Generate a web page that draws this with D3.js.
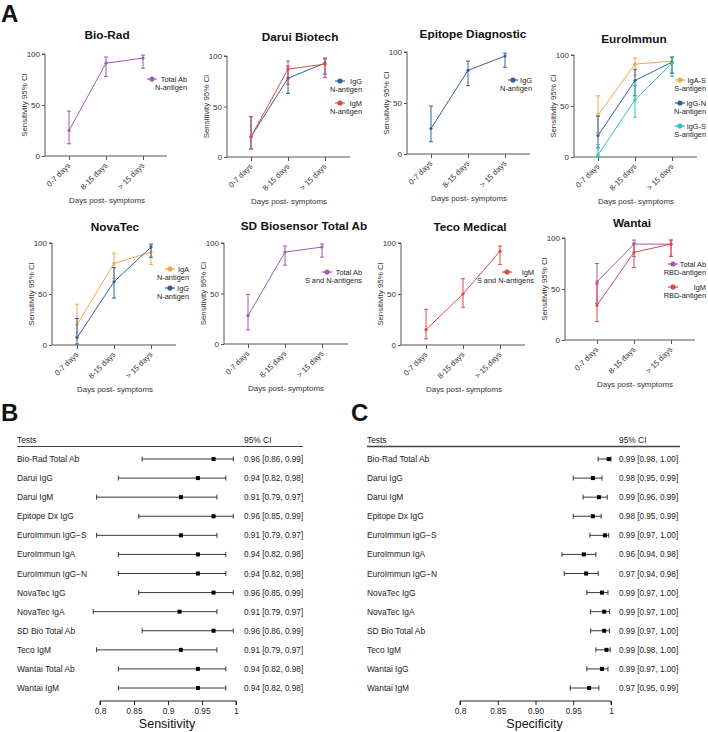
<!DOCTYPE html>
<html><head><meta charset="utf-8">
<script src="https://cdn.jsdelivr.net/npm/d3@7"></script>
<style>
body{margin:0;background:#fff;}
svg{display:block;font-family:"Liberation Sans",Arial,Helvetica,sans-serif;}
</style></head>
<body>
<svg id="c" width="708" height="732"></svg>
<script>
// ---------- DATA ----------
const categories = ["0-7 days", "8-15 days", "> 15 days"];
const yTicks = [0, 50, 100];
// [estimate, lower, upper] per category
const bioRadTotalAb = [[25, 12, 44], [91, 78, 97], [96, 86, 99]];
const daruiIgG = [[20, 8, 40], [78, 63, 90], [93, 82, 98]];
const daruiIgM = [[20, 8, 40], [87, 72, 95], [92, 79, 97]];
const epitopeIgG = [[25, 12, 47], [82, 67, 91], [96, 85, 99]];
const euroIgAS = [[41, 24, 60], [91, 80, 97], [94, 83, 98]];
const euroIgGN = [[21, 9, 40], [75, 60, 86], [93, 82, 98]];
const euroIgGS = [[2, 0, 12], [56, 39, 70], [92, 79, 97]];
const novaIgA = [[20, 8, 40], [80, 65, 90], [91, 79, 97]];
const novaIgG = [[7, 1, 26], [62, 46, 76], [96, 86, 99]];
const sdTotalAb = [[28, 14, 49], [91, 78, 97], [96, 86, 99]];
const tecoIgM = [[15, 6, 35], [50, 37, 65], [92, 79, 97]];
const wantaiTotalAb = [[57, 36, 75], [94, 82, 98], [94, 82, 98]];
const wantaiIgM = [[34, 18, 55], [86, 71, 95], [94, 82, 98]];

const sensTests = ["Bio-Rad Total Ab", "Darui IgG", "Darui IgM", "Epitope Dx IgG", "EuroImmun IgG\u2212S", "EuroImmun IgA", "EuroImmun IgG\u2212N", "NovaTec IgG", "NovaTec IgA", "SD Bio Total Ab", "Teco IgM", "Wantai Total Ab", "Wantai IgM"];
const sensEst = [0.967, 0.944, 0.919, 0.967, 0.919, 0.944, 0.944, 0.967, 0.917, 0.967, 0.919, 0.944, 0.944];
const sensLo = [0.862, 0.827, 0.795, 0.857, 0.795, 0.827, 0.827, 0.857, 0.790, 0.862, 0.795, 0.827, 0.827];
const sensHi = [0.996, 0.985, 0.972, 0.996, 0.972, 0.985, 0.985, 0.996, 0.972, 0.996, 0.972, 0.985, 0.985];
const sensCI = ["0.96 [0.86, 0.99]", "0.94 [0.82, 0.98]", "0.91 [0.79, 0.97]", "0.96 [0.85, 0.99]", "0.91 [0.79, 0.97]", "0.94 [0.82, 0.98]", "0.94 [0.82, 0.98]", "0.96 [0.85, 0.99]", "0.91 [0.79, 0.97]", "0.96 [0.86, 0.99]", "0.91 [0.79, 0.97]", "0.94 [0.82, 0.98]", "0.94 [0.82, 0.98]"];
const sensTicks = [0.8, 0.85, 0.9, 0.95, 1];
const sensTickLabels = ["0.8", "0.85", "0.9", "0.95", "1"];

const specTests = ["Bio-Rad Total Ab", "Darui IgG", "Darui IgM", "Epitope Dx IgG", "EuroImmun IgG\u2212S", "EuroImmun IgA", "EuroImmun IgG\u2212N", "NovaTec IgG", "NovaTec IgA", "SD Bio Total Ab", "Teco IgM", "Wantai IgG", "Wantai IgM"];
const specEst = [0.997, 0.976, 0.984, 0.976, 0.992, 0.964, 0.967, 0.988, 0.991, 0.991, 0.994, 0.988, 0.971];
const specLo = [0.983, 0.950, 0.963, 0.950, 0.972, 0.935, 0.938, 0.968, 0.973, 0.973, 0.980, 0.968, 0.946];
const specHi = [1.000, 0.988, 0.995, 0.987, 0.997, 0.980, 0.983, 0.996, 0.998, 0.998, 0.999, 0.996, 0.984];
const specCI = ["0.99 [0.98, 1.00]", "0.98 [0.95, 0.99]", "0.99 [0.96, 0.99]", "0.98 [0.95, 0.99]", "0.99 [0.97, 1.00]", "0.96 [0.94, 0.98]", "0.97 [0.94, 0.98]", "0.99 [0.97, 1.00]", "0.99 [0.97, 1.00]", "0.99 [0.97, 1.00]", "0.99 [0.98, 1.00]", "0.99 [0.97, 1.00]", "0.97 [0.95, 0.99]"];
const specTicks = [0.8, 0.85, 0.9, 0.95, 1];
const specTickLabels = ["0.8", "0.85", "0.90", "0.95", "1"];

// ---------- STYLE ----------
const PURPLE = "#9d5dab", BLUE = "#34609f", RED = "#e04848", ORANGE = "#f2a64a", TEAL = "#2fc1c0";
const svg = d3.select("#c");
const AX = "#555";

const panels = [
  {title: "Bio-Rad", x0: 45, t0: 69, step: 37, xEnd: 167, y100: 54, y0: 156, tx: 107, ty: 39,
   series: [{lab: ["Total Ab", "N-antigen"], d: bioRadTotalAb, c: PURPLE}], leg: {mx: 152, end: 187, ys: [79]}},
  {title: "Darui Biotech", x0: 227, t0: 251, step: 37, xEnd: 350, y100: 56, y0: 157, tx: 300, ty: 41,
   series: [{lab: ["IgG", "N-antigen"], d: daruiIgG, c: BLUE}, {lab: ["IgM", "N-antigen"], d: daruiIgM, c: RED}], leg: {mx: 340, end: 362, ys: [81, 103]}},
  {title: "Epitope Diagnostic", x0: 407, t0: 431, step: 37, xEnd: 530, y100: 52, y0: 154, tx: 473, ty: 38,
   series: [{lab: ["IgG", "N-antigen"], d: epitopeIgG, c: BLUE}], leg: {mx: 513, end: 532, ys: [80]}},
  {title: "EuroImmun", x0: 574, t0: 598, step: 37, xEnd: 697, y100: 55, y0: 157, tx: 634, ty: 43,
   series: [{lab: ["IgA-S", "S-antigen"], d: euroIgAS, c: ORANGE}, {lab: ["IgG-N", "N-antigen"], d: euroIgGN, c: BLUE}, {lab: ["IgG-S", "S-antigen"], d: euroIgGS, c: TEAL}], leg: {mx: 680, end: 706, ys: [80, 103, 126]}},
  {title: "NovaTec", x0: 52, t0: 77, step: 37, xEnd: 176, y100: 243, y0: 345, tx: 115, ty: 231,
   series: [{lab: ["IgA", "N-antigen"], d: novaIgA, c: ORANGE}, {lab: ["IgG", "N-antigen"], d: novaIgG, c: BLUE}], leg: {mx: 170, end: 189, ys: [269, 288]}},
  {title: "SD Biosensor Total Ab", x0: 224, t0: 248, step: 37, xEnd: 348, y100: 243, y0: 344, tx: 304, ty: 230,
   series: [{lab: ["Total Ab", "S and N-antigens"], d: sdTotalAb, c: PURPLE}], leg: {mx: 327, end: 362, ys: [272]}},
  {title: "Teco Medical", x0: 401, t0: 426, step: 37, xEnd: 525, y100: 243, y0: 345, tx: 470, ty: 231,
   series: [{lab: ["IgM", "S and N-antigens"], d: tecoIgM, c: RED}], leg: {mx: 507, end: 534, ys: [272]}},
  {title: "Wantai", x0: 565, t0: 597, step: 37, xEnd: 695, y100: 238, y0: 340, tx: 632, ty: 227,
   series: [{lab: ["Total Ab", "RBD-antigen"], d: wantaiTotalAb, c: PURPLE}, {lab: ["IgM", "RBD-antigen"], d: wantaiIgM, c: RED}], leg: {mx: 673, end: 706, ys: [264, 287]}}
];

// Panel letters
[["A", 1, 22], ["B", 1, 421], ["C", 351, 421]].forEach(([t, x, y]) => {
  svg.append("text").attr("x", x).attr("y", y).attr("font-size", 24).attr("font-weight", "bold").attr("fill", "#111").text(t);
});

panels.forEach(p => {
  const g = svg.append("g");
  const x = d3.scalePoint().domain(categories).range([p.t0, p.t0 + 2 * p.step]);
  const y = d3.scaleLinear().domain([0, 100]).range([p.y0, p.y100]);

  g.append("text").attr("x", p.tx).attr("y", p.ty).attr("text-anchor", "middle")
    .attr("font-size", 11.8).attr("font-weight", "bold").attr("fill", "#111").text(p.title);

  // y axis
  const ya = g.append("g").attr("transform", `translate(${p.x0},0)`)
    .call(d3.axisLeft(y).tickValues(yTicks).tickSize(3).tickPadding(2));
  ya.selectAll("path,line").attr("stroke", AX);
  ya.selectAll("text").attr("font-size", 8).attr("fill", "#333").attr("font-family", "Liberation Sans, Arial, sans-serif");
  ya.select(".domain").attr("d", `M-3,${p.y100}H0V${p.y0}`);

  // x axis
  const xa = g.append("g").attr("transform", `translate(0,${p.y0})`)
    .call(d3.axisBottom(x).tickSize(4).tickFormat(""));
  xa.select(".domain").remove();
  xa.selectAll("line").attr("stroke", AX);
  g.append("line").attr("x1", p.x0).attr("x2", p.xEnd).attr("y1", p.y0).attr("y2", p.y0).attr("stroke", AX);
  categories.forEach(cat => {
    g.append("text").attr("transform", `translate(${x(cat) + 2},${p.y0 + 10}) rotate(-45)`)
      .attr("text-anchor", "end").attr("font-size", 7.8).attr("fill", "#333").text(cat);
  });
  g.append("text").attr("x", p.t0 + p.step + 1).attr("y", p.y0 + 47).attr("text-anchor", "middle")
    .attr("font-size", 7.9).attr("fill", "#333").text("Days post- symptoms");

  g.append("text").attr("transform", `translate(${p.x0 - 18},${(p.y0 + p.y100) / 2}) rotate(-90)`)
    .attr("text-anchor", "middle").attr("font-size", 7.9).attr("fill", "#333").text("Sensitivity 95% CI");

  // series
  p.series.forEach((s, si) => {
    const pts = s.d.map((v, i) => ({x: x(categories[i]), v: v[0], lo: v[1], hi: v[2]}));
    g.append("path").attr("d", d3.line().x(d => d.x).y(d => y(d.v))(pts))
      .attr("fill", "none").attr("stroke", s.c).attr("stroke-width", 1);
    pts.forEach(d => {
      g.append("line").attr("x1", d.x).attr("x2", d.x).attr("y1", y(d.lo)).attr("y2", y(d.hi)).attr("stroke", s.c).attr("stroke-width", 1);
      [d.lo, d.hi].forEach(b => g.append("line").attr("x1", d.x - 2).attr("x2", d.x + 2).attr("y1", y(b)).attr("y2", y(b)).attr("stroke", s.c).attr("stroke-width", 1));
      g.append("circle").attr("cx", d.x).attr("cy", y(d.v)).attr("r", 1.6).attr("fill", s.c);
    });
    // legend
    const ly = p.leg.ys[si];
    g.append("line").attr("x1", p.leg.mx - 5).attr("x2", p.leg.mx + 5).attr("y1", ly).attr("y2", ly).attr("stroke", s.c).attr("stroke-width", 1.2);
    g.append("circle").attr("cx", p.leg.mx).attr("cy", ly).attr("r", 2.6).attr("fill", s.c);
    g.append("text").attr("x", p.leg.end).attr("y", ly + 3).attr("text-anchor", "end").attr("font-size", 7.4).attr("fill", "#222").text(s.lab[0]);
    g.append("text").attr("x", p.leg.end).attr("y", ly + 11).attr("text-anchor", "end").attr("font-size", 7.4).attr("fill", "#222").text(s.lab[1]);
  });
});

// ---------- FOREST PLOTS ----------
function forest(cfg) {
  const g = svg.append("g");
  const x = d3.scaleLinear().domain([0.8, 1]).range([cfg.ax0, cfg.ax1]);
  const y = d3.scalePoint().domain(d3.range(cfg.tests.length)).range([459, 688]);
  g.append("text").attr("x", cfg.labX).attr("y", 443).attr("font-size", 8.4).attr("fill", "#222").text("Tests");
  g.append("text").attr("x", cfg.ciX).attr("y", 443).attr("font-size", 8.4).attr("fill", "#222").text("95% CI");
  g.append("line").attr("x1", cfg.labX).attr("x2", cfg.lineEnd).attr("y1", 446.5).attr("y2", 446.5).attr("stroke", "#444").attr("stroke-width", cfg.lw);
  cfg.tests.forEach((t, i) => {
    const yy = y(i);
    g.append("text").attr("x", cfg.labX).attr("y", yy + 3).attr("font-size", 8.4).attr("fill", "#222").text(t);
    g.append("text").attr("x", cfg.ciX).attr("y", yy + 3).attr("font-size", 8.2).attr("fill", "#222").text(cfg.ci[i]);
    g.append("line").attr("x1", x(cfg.lo[i])).attr("x2", x(cfg.hi[i])).attr("y1", yy).attr("y2", yy).attr("stroke", "#222").attr("stroke-width", 0.9);
    [cfg.lo[i], cfg.hi[i]].forEach(b => g.append("line").attr("x1", x(b)).attr("x2", x(b)).attr("y1", yy - 2.5).attr("y2", yy + 2.5).attr("stroke", "#222").attr("stroke-width", 0.9));
    g.append("rect").attr("x", x(cfg.est[i]) - 2).attr("y", yy - 2).attr("width", 4).attr("height", 4).attr("fill", "#000");
  });
  const xa = g.append("g").attr("transform", "translate(0,701)")
    .call(d3.axisBottom(x).tickValues(cfg.ticks).tickFormat((d, i) => cfg.tickLabels[i]).tickSize(4).tickPadding(3).tickSizeOuter(0));
  xa.selectAll("path,line").attr("stroke", "#222");
  xa.select(".domain").attr("d", `M${cfg.ax0},4V0H${cfg.ax1}V4`);
  xa.selectAll("text").attr("font-size", 8.2).attr("fill", "#222").attr("font-family", "Liberation Sans, Arial, sans-serif");
  g.append("text").attr("x", (cfg.ax0 + cfg.ax1) / 2 - 1).attr("y", 728).attr("text-anchor", "middle")
    .attr("font-size", 12.5).attr("fill", "#111").text(cfg.title);
}
forest({tests: sensTests, est: sensEst, lo: sensLo, hi: sensHi, ci: sensCI, ticks: sensTicks, tickLabels: sensTickLabels,
  ax0: 100, ax1: 236, labX: 17, ciX: 244, lineEnd: 303, lw: 1, title: "Sensitivity"});
forest({tests: specTests, est: specEst, lo: specLo, hi: specHi, ci: specCI, ticks: specTicks, tickLabels: specTickLabels,
  ax0: 460, ax1: 611, labX: 367, ciX: 619, lineEnd: 680, lw: 1.6, title: "Specificity"});
</script>
</body></html>
